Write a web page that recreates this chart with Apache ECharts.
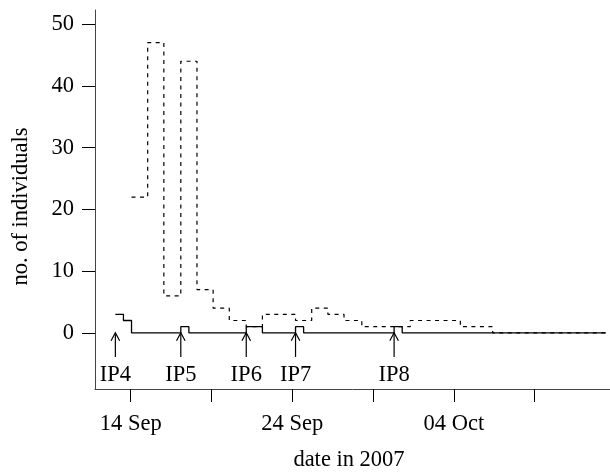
<!DOCTYPE html>
<html>
<head>
<meta charset="utf-8">
<script src="https://cdn.jsdelivr.net/npm/echarts@6/dist/echarts.min.js"></script>
<style>
html,body{margin:0;padding:0;background:#fff;}
#chart{width:610px;height:474px;}
</style>
</head>
<body>
<div id="chart"></div>
<script>
// x values are days after 14 Sep 2007
var solidX = [-0.95, -0.45, 0.05, 3.1, 3.6, 7.15, 8.15, 10.2, 10.7, 16.3, 16.8, 29.4];
var solidY = [3, 2, 0, 1, 0, 1, 0, 1, 0, 1, 0, 0];
var dashedX = [0.05, 1.05, 2.05, 3.1, 4.1, 5.1, 6.1, 7.15, 8.15, 10.2, 11.2, 12.2, 13.2, 14.3, 17.3, 20.4, 22.4, 29.4];
var dashedY = [22, 47, 6, 44, 7, 4, 2, 1, 3, 2, 4, 3, 2, 1, 2, 1, 0, 0];
var arrowX = [-0.95, 3.1, 7.15, 10.2, 16.3];
var arrowLabels = ['IP4', 'IP5', 'IP6', 'IP7', 'IP8'];
var yTicks = [0, 10, 20, 30, 40, 50];
var xTickDays = [0, 5, 10, 15, 20, 25];
var xLabelDays = [0, 10, 20];
var xLabelText = ['14 Sep', '24 Sep', '04 Oct'];

var FONT = 'Liberation Serif';
var FS = 22.5;

function pairs(xs, ys) { return xs.map(function (x, i) { return [x, ys[i]]; }); }

var chart = echarts.init(document.getElementById('chart'), null, {renderer: 'canvas'});
chart.setOption({
  animation: false,
  backgroundColor: '#fff',
  grid: {left: 95, right: 0, top: 10, bottom: 85, containLabel: false, outerBoundsMode: 'none'},
  xAxis: {
    type: 'value', min: -2.21, max: 29.66,
    name: 'date in 2007', nameLocation: 'middle', nameGap: 60,
    nameTextStyle: {fontFamily: FONT, fontSize: FS, color: '#000', padding: [0, 7, 0, 0]},
    splitLine: {show: false},
    axisLine: {show: true, onZero: false, lineStyle: {color: '#444', width: 1}},
    axisTick: {show: true, length: 13, customValues: xTickDays, lineStyle: {color: '#000'}},
    axisLabel: {
      customValues: xLabelDays, margin: 24,
      fontFamily: FONT, fontSize: FS, color: '#000',
      formatter: function (v) { var i = xLabelDays.indexOf(v); return i >= 0 ? xLabelText[i] : ''; }
    }
  },
  yAxis: {
    type: 'value', min: -9.1, max: 52.3,
    name: 'no. of individuals', nameLocation: 'middle', nameGap: 62, nameRotate: 90,
    nameTextStyle: {fontFamily: FONT, fontSize: FS, color: '#000', padding: [0, 14, 0, 0]},
    splitLine: {show: false},
    axisLine: {show: true, onZero: false, lineStyle: {color: '#444', width: 1}},
    axisTick: {show: true, length: 13, customValues: yTicks, lineStyle: {color: '#000'}},
    axisLabel: {customValues: yTicks, margin: 21, fontFamily: FONT, fontSize: FS, color: '#000'}
  },
  series: [
    {
      type: 'line', step: 'end', showSymbol: false, symbol: 'none',
      data: pairs(dashedX, dashedY),
      lineStyle: {color: '#000', width: 1.2, type: [4, 4.5]}
    },
    {
      type: 'line', step: 'end', showSymbol: false, symbol: 'none',
      data: pairs(solidX, solidY),
      lineStyle: {color: '#000', width: 1.3}
    },
    {
      type: 'custom',
      data: arrowX.map(function (x, i) { return [x, i]; }),
      renderItem: function (params, api) {
        var x = api.value(0);
        var idx = api.value(1);
        var top = api.coord([x, 0]);
        var bot = api.coord([x, -3.9]);
        var lab = api.coord([x, -6.9]);
        return {
          type: 'group',
          children: [
            {type: 'line', shape: {x1: bot[0], y1: bot[1], x2: top[0], y2: top[1]},
             style: {stroke: '#000', lineWidth: 1.2}},
            {type: 'polyline', shape: {points: [[top[0] - 4.3, top[1] + 8], [top[0], top[1]], [top[0] + 4.3, top[1] + 8]]},
             style: {stroke: '#000', fill: null, lineWidth: 1.2}},
            {type: 'text', style: {text: arrowLabels[idx], x: lab[0], y: lab[1],
             align: 'center', verticalAlign: 'middle', font: FS + 'px "' + FONT + '"', fill: '#000'}}
          ]
        };
      }
    }
  ]
});
</script>
</body>
</html>
